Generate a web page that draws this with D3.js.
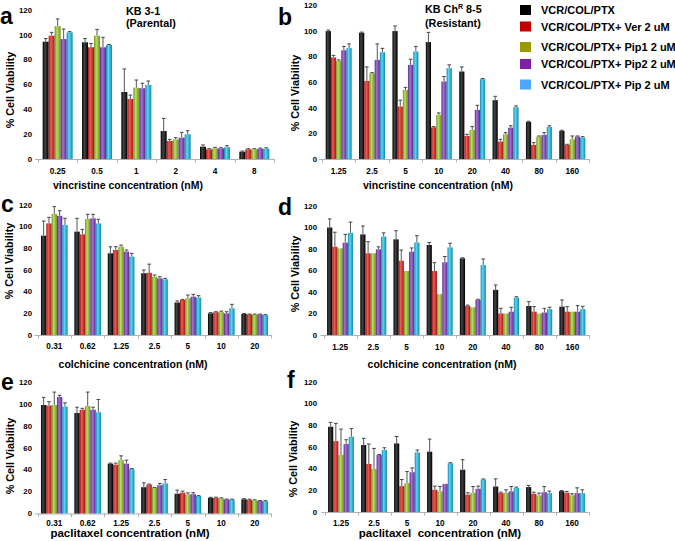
<!DOCTYPE html>
<html><head><meta charset="utf-8">
<script src="https://cdn.jsdelivr.net/npm/d3@7"></script>
<style>
body{margin:0;background:#fff;}
text{font-family:"Liberation Sans",Arial,sans-serif;font-weight:bold;fill:#000;}
</style></head>
<body><svg id="c" width="675" height="541"></svg>
<script>
const seriesNames = ["VCR/COL/PTX","VCR/COL/PTX+ Ver 2 uM","VCR/COL/PTX+ Pip1 2 uM","VCR/COL/PTX+ Pip2 2 uM","VCR/COL/PTX+ Pip 2 uM"];
const legendColors = ["#000000","#c00000","#999900","#7f1fa5","#4da6ff"];
const barDark  = ["#000000","#a01818","#6f9020","#5a2a88","#1088b0"];
const barLight = ["#444444","#f05a50","#bade60","#a472d4","#5cd6f2"];
const yTicks = [0,20,40,60,80,100,120];

const catsVin = ["0.25","0.5","1","2","4","8"];
const catsRes = ["1.25","2.5","5","10","20","40","80","160"];
const catsPar = ["0.31","0.62","1.25","2.5","5","10","20"];

// panel a: KB 3-1, vincristine
const aMeans = [[94.5,94,54,22.5,9.9,5.9],[99.3,90,48.3,14.5,7.8,7.8],[107,99.3,57.4,15.8,8.6,7.8],[96.6,90,57,17.2,8.6,8.3],[102,91.8,59.6,19.9,9.4,8.3]];
const aErrs  = [[2.5,3,18.5,10.2,1.4,0.5],[2.7,3,3.2,1.3,0.5,0.5],[5.8,5.1,6.2,1.4,0.8,0.5],[8.1,8,4,4.3,0.5,0.5],[0.6,0.5,3.2,2.9,1.3,0.7]];
// panel b: KB ChR 8-5, vincristine
const bMeans = [[100,98.7,100,91.4,68.4,46,29,22],[79.4,61,41,24.8,18,13.6,11,11],[76.7,67,54,34.5,22.7,19.3,17.5,15.4],[85,77.5,73.6,60.6,38.4,24.5,18.8,17.5],[86.7,83.5,84,71,62.4,40.5,25,16.7]];
const bErrs  = [[0.8,0.5,4,7.6,3.6,3,0.5,0.5],[1.6,11,5,0.5,1.3,1.8,1.8,0.5],[0.8,0.5,2,1.5,2.6,1.3,0.5,2.6],[3,12.5,4.4,3.9,3.6,1.5,1.8,0.5],[3.3,3,4,2.6,0.5,1,1,0.8]];
// panel c: KB 3-1, colchicine
const cMeans = [[91.7,95.4,75.4,57,30,20,19.4],[103,92.9,78.5,57.4,32.3,21,19],[111.7,107,81.5,53.8,33.8,21,19],[110,107.7,77,52.3,35.4,20,19],[101.5,103,72.3,51.4,34.5,24.6,18.5]];
const cErrs  = [[13.5,12.3,6,3,1.4,0.7,0.5],[5.6,4.6,3,8,0.5,0.5,0.3],[6.8,4.4,1.5,1.6,3.1,1,0.3],[4.8,3.7,1.5,1.5,2.1,1.5,0.3],[6.2,3.8,3.1,0.9,1.8,3.7,0.3]];
// panel d: KB ChR 8-5, colchicine
const dMeans = [[100,93.6,89,83.7,71.3,42,27,26.4],[82,76,69,59.5,27,20,21.7,21.7],[80.6,76,59.5,38,25.8,20,20,21.7],[85.9,79.7,77.5,67.6,32.6,21.7,20.9,21.7],[95,91.5,86,81.5,65,34.7,24,24]];
const dErrs  = [[8,7.8,8,2.3,0.5,4.5,4,6.2],[13.6,10.8,10,7.8,0.8,4.8,4.7,4.7],[0,0,0,0,0,0,0,0],[7.7,2.3,3.5,5.4,0.6,4.1,3.9,5.6],[10,3.5,6.4,3.8,5.7,0.9,1.8,2.7]];
// panel e: KB 3-1, paclitaxel
const eMeans = [[99,91.7,45.5,24,18,14.3,13],[98.5,94.7,44.5,26.4,19,14.3,12.5],[99,98,48.7,23.5,17.3,13.7,12],[106.3,94.7,45.5,25.8,17.6,12.8,11.5],[97.5,92.4,40.5,27.4,16,12.8,11.2]];
const eErrs  = [[7,5.3,0.5,4,3.3,0.5,0.6],[3.5,1.3,1.5,0.5,1.4,0.6,0.6],[11.8,12.8,3.9,0.3,1.5,0.6,0.5],[1.5,2.3,3.2,1.6,1.4,0.4,0.3],[3.5,11.6,0.5,3.6,0.3,0.3,0.5]];
// panel f: KB ChR 8-5, paclitaxel
const fMeans = [[78.7,61.8,63.3,55.7,39,23.5,23,19.3],[65.4,44.3,23.9,20.5,16,17.4,16.8,17.7],[52.6,39.8,26.6,19,17.7,17.7,15.3,15.3],[62.7,52.6,36.7,26,21.4,19,18.3,17.4],[69.4,57.2,55,45,30,22.3,17.4,17.4]];
const fErrs  = [[4,6.2,6.4,11.6,9.3,7.1,1.5,0.5],[16.4,18.4,6.1,3.4,1.7,0.9,1.5,1.3],[23.9,18.9,10.7,4.5,5.8,2.8,2.1,1.5],[4,0.5,4,0,2.5,4.5,5.2,4.9],[7.6,2.1,2.2,0.5,0.5,0.7,1.9,3.1]];

const svg = d3.select("#c");
const defs = svg.append("defs");
barDark.forEach((c,i)=>{
  const g = defs.append("linearGradient").attr("id","g"+i).attr("x1","0").attr("x2","1").attr("y1","0").attr("y2","0");
  g.append("stop").attr("offset","0%").attr("stop-color",c);
  g.append("stop").attr("offset","38%").attr("stop-color",barLight[i]);
  g.append("stop").attr("offset","100%").attr("stop-color",c);
});

function panel(p){
  const x = d3.scaleBand().domain(p.cats).range(p.xr).paddingInner(0).paddingOuter(0);
  const inner = d3.scaleBand().domain(d3.range(5)).range([0,x.bandwidth()]).paddingOuter(p.pad).paddingInner(0);
  const y = d3.scaleLinear().domain([0,120]).range(p.yr);
  const g = svg.append("g");
  g.selectAll(".yt").data(yTicks).join("text")
    .attr("x",p.labX).attr("y",d=>y(d)+2.8).attr("text-anchor","end")
    .attr("font-size","7.8px").text(d=>d);
  g.append("line").attr("x1",p.xr[0]-3).attr("x2",p.xr[1]).attr("y1",y(0)+0.5).attr("y2",y(0)+0.5)
    .attr("stroke","#b0b0b0").attr("stroke-width",1);
  g.selectAll(".xtk").data(d3.range(p.cats.length+1)).join("line")
    .attr("x1",i=>Math.round(p.xr[0]+i*x.step())+0.5).attr("x2",i=>Math.round(p.xr[0]+i*x.step())+0.5)
    .attr("y1",y(0)).attr("y2",y(0)+3.5).attr("stroke","#b0b0b0");
  g.selectAll(".xl").data(p.cats).join("text")
    .attr("x",d=>x(d)+x.bandwidth()/2).attr("y",p.tickY).attr("text-anchor","middle")
    .attr("font-size","8.2px").text(d=>d);
  p.means.forEach((arr,s)=>{
    const gs = g.append("g");
    gs.selectAll("rect").data(arr).join("rect")
      .attr("x",(d,i)=>x(p.cats[i])+inner(s))
      .attr("width",inner.bandwidth())
      .attr("y",d=>y(d)).attr("height",d=>y(0)-y(d))
      .attr("fill","url(#g"+s+")");
    const eb = arr.map((d,i)=>({m:d,e:p.errs[s][i],i}));
    const cx = d=>x(p.cats[d.i])+inner(s)+inner.bandwidth()/2;
    gs.selectAll(".ev").data(eb.filter(d=>d.e>0)).join("line")
      .attr("x1",cx).attr("x2",cx)
      .attr("y1",d=>y(d.m)).attr("y2",d=>y(d.m+d.e))
      .attr("stroke","#555").attr("stroke-width",1);
    gs.selectAll(".ec").data(eb.filter(d=>d.e>0)).join("line")
      .attr("x1",d=>cx(d)-1.8).attr("x2",d=>cx(d)+1.8)
      .attr("y1",d=>y(d.m+d.e)).attr("y2",d=>y(d.m+d.e))
      .attr("stroke","#444").attr("stroke-width",1);
  });
  g.append("text").attr("transform",`translate(${p.ytX},${p.ytY}) rotate(-90)`)
    .attr("text-anchor","middle").attr("font-size","10.8px").text("% Cell Viability");
  g.append("text").attr("x",p.xtX).attr("y",p.xtY).attr("text-anchor","middle")
    .attr("font-size",p.xtSize).style("white-space","pre").text(p.xt);
  g.append("text").attr("x",p.lx).attr("y",p.ly).attr("font-size","23px").text(p.letter);
}

panel({cats:catsVin,means:aMeans,errs:aErrs,xr:[38,274],yr:[159,10],pad:0.78,labX:32,tickY:174,
  ytX:14,ytY:90,xt:"vincristine concentration (nM)",xtX:128,xtY:189,xtSize:"10.5px",letter:"a",lx:0,ly:24});
panel({cats:catsRes,means:bMeans,errs:bErrs,xr:[322,589],yr:[159,5.5],pad:0.71,labX:317,tickY:174,
  ytX:299,ytY:93,xt:"vincristine concentration (nM)",xtX:438,xtY:189,xtSize:"10.5px",letter:"b",lx:278,ly:25});
panel({cats:catsPar,means:cMeans,errs:cErrs,xr:[37.6,271.4],yr:[335,205],pad:0.63,labX:32,tickY:349,
  ytX:13,ytY:261,xt:"colchicine concentration (nM)",xtX:133,xtY:368,xtSize:"10.5px",letter:"c",lx:1,ly:212});
panel({cats:catsRes,means:dMeans,errs:dErrs,xr:[323.5,589],yr:[335,206],pad:0.69,labX:317,tickY:350,
  ytX:299,ytY:274,xt:"colchicine concentration (nM)",xtX:442,xtY:368,xtSize:"10.5px",letter:"d",lx:278,ly:215});
panel({cats:catsPar,means:eMeans,errs:eErrs,xr:[37.6,271.4],yr:[513.5,382],pad:0.63,labX:32,tickY:526,
  ytX:14,ytY:456,xt:"paclitaxel concentration (nM)",xtX:130,xtY:537,xtSize:"11.5px",letter:"e",lx:1,ly:390});
panel({cats:catsRes,means:fMeans,errs:fErrs,xr:[324.5,588.5],yr:[512,382],pad:0.69,labX:317,tickY:526,
  ytX:297,ytY:459,xt:"paclitaxel  concentration (nM)",xtX:440,xtY:537,xtSize:"11.5px",letter:"f",lx:287,ly:388});

svg.append("text").attr("x",126).attr("y",14.5).attr("font-size","10.8px").text("KB 3-1");
svg.append("text").attr("x",126).attr("y",26.5).attr("font-size","10.8px").text("(Parental)");
const kt = svg.append("text").attr("x",425).attr("y",13).attr("font-size","10.8px");
kt.append("tspan").text("KB Ch");
kt.append("tspan").attr("font-size","7px").attr("dy",-4).text("R");
kt.append("tspan").attr("dy",4).text(" 8-5");
svg.append("text").attr("x",425).attr("y",26.5).attr("font-size","10.8px").text("(Resistant)");

const legY = [10,26.5,47,64,84.5];
const lg = svg.append("g");
seriesNames.forEach((n,i)=>{
  lg.append("rect").attr("x",520).attr("y",legY[i]-5).attr("width",11).attr("height",10).attr("fill",legendColors[i]);
  lg.append("text").attr("x",541).attr("y",legY[i]+4).attr("font-size","11px").text(n);
});
</script></body></html>
